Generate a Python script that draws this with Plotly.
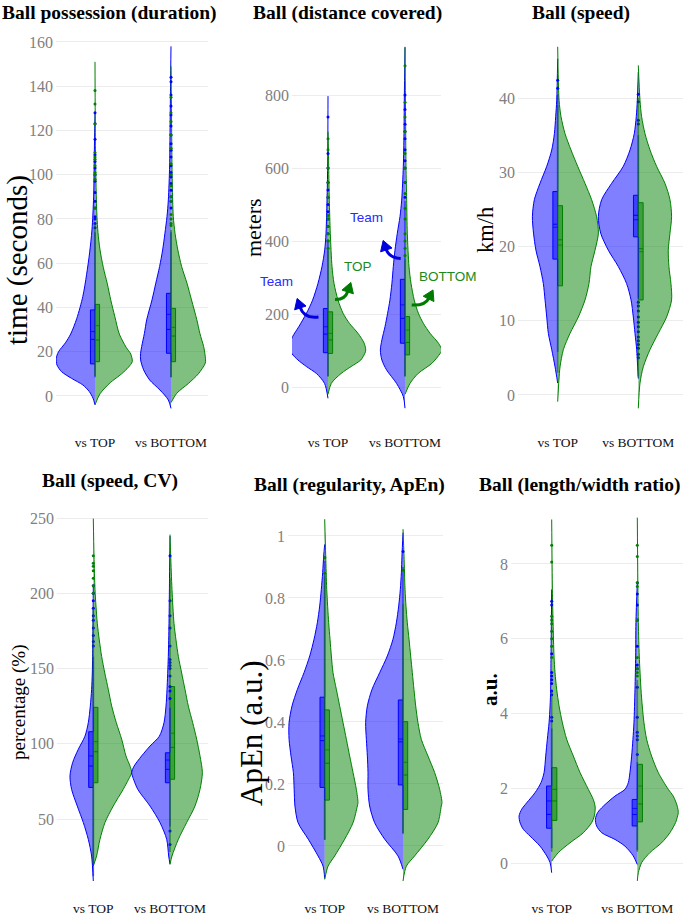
import plotly.graph_objects as go
from plotly.subplots import make_subplots

# ---------------- DATA ----------------
CATEGORIES = ["vs TOP", "vs BOTTOM"]
PANEL_TITLES = ["Ball possession (duration)", "Ball (distance covered)", "Ball (speed)",
                "Ball (speed, CV)", "Ball (regularity, ApEn)", "Ball (length/width ratio)"]
Y_TITLES = ["time (seconds)", "meters", "km/h", "percentage (%)", "ApEn (a.u.)", "<b>a.u.</b>"]
Y_TICKS = [[0, 20, 40, 60, 80, 100, 120, 140, 160], [0, 200, 400, 600, 800], [0, 10, 20, 30, 40],
           [50, 100, 150, 200, 250], [0, 0.2, 0.4, 0.6, 0.8, 1], [0, 2, 4, 6, 8]]

# Density profiles (value, relative half-width) per half violin: team (left) / opponent (right)
DUR_TOP_TEAM_V = [-4, -1, 2, 5, 8, 11, 14, 17, 20, 24, 28, 35, 45, 55, 65, 75, 90, 110, 128]
DUR_TOP_TEAM_D = [0, 0.026, 0.075, 0.16, 0.31, 0.44, 0.50, 0.51, 0.48, 0.39, 0.32, 0.24, 0.16, 0.11, 0.07, 0.04, 0.018, 0.009, 0]
DUR_TOP_OPP_V = [-4, 1, 6, 10, 13, 15.5, 19, 22, 28, 36, 43, 51, 58, 66, 74, 81, 89, 104, 119, 151]
DUR_TOP_OPP_D = [0, 0.066, 0.20, 0.35, 0.44, 0.49, 0.47, 0.41, 0.32, 0.26, 0.21, 0.16, 0.11, 0.066, 0.039, 0.026, 0.018, 0.009, 0.004, 0]
DUR_BOT_TEAM_V = [-5.6, -1.8, 2.7, 7.2, 11.8, 16.3, 19.3, 22.3, 28.3, 34.4, 43.4, 51, 58.5, 66, 73.5, 81, 88.6, 104, 119, 140, 158]
DUR_BOT_TEAM_D = [0, 0.035, 0.145, 0.28, 0.36, 0.40, 0.40, 0.386, 0.35, 0.32, 0.25, 0.20, 0.15, 0.11, 0.08, 0.053, 0.035, 0.018, 0.013, 0.006, 0]
DUR_BOT_OPP_V = [-3, 1.2, 5.7, 10, 14.7, 16.3, 19.3, 22.3, 28.3, 34.4, 43.4, 51, 58.5, 66, 73.5, 81, 88.6, 104, 119, 149]
DUR_BOT_OPP_D = [0, 0.075, 0.23, 0.36, 0.45, 0.455, 0.445, 0.43, 0.38, 0.34, 0.27, 0.21, 0.14, 0.09, 0.053, 0.03, 0.022, 0.013, 0.009, 0]

DIST_TOP_TEAM_V = [-31, 10, 37, 56, 74, 92, 115, 138, 165, 202, 238, 284, 330, 375, 421, 512, 604, 797]
DIST_TOP_TEAM_D = [0, 0.045, 0.15, 0.28, 0.39, 0.47, 0.50, 0.46, 0.38, 0.28, 0.20, 0.13, 0.078, 0.043, 0.026, 0.013, 0.004, 0]
DIST_TOP_OPP_V = [-20, 10, 37, 56, 74, 92, 101, 120, 147, 174, 202, 238, 284, 330, 421, 512, 604, 700]
DIST_TOP_OPP_D = [0, 0.043, 0.17, 0.30, 0.426, 0.478, 0.49, 0.47, 0.39, 0.28, 0.196, 0.13, 0.078, 0.052, 0.03, 0.017, 0.009, 0]
DIST_BOT_TEAM_V = [-58, -26, 10, 47, 74, 101, 129, 165, 202, 238, 284, 330, 375, 421, 467, 512, 604, 695, 786, 932]
DIST_BOT_TEAM_D = [0, 0.022, 0.11, 0.24, 0.30, 0.32, 0.30, 0.26, 0.226, 0.196, 0.17, 0.152, 0.13, 0.10, 0.065, 0.043, 0.022, 0.013, 0.009, 0]
DIST_BOT_OPP_V = [-20, 10, 37, 65, 92, 101, 120, 147, 174, 202, 238, 284, 330, 421, 512, 604, 700, 930]
DIST_BOT_OPP_D = [0, 0.065, 0.17, 0.35, 0.457, 0.478, 0.435, 0.326, 0.24, 0.174, 0.12, 0.078, 0.052, 0.03, 0.022, 0.013, 0.009, 0]

SPD_TOP_TEAM_V = [1.6, 3.8, 6.1, 8.3, 10.5, 12.8, 15, 17.3, 19.5, 21.8, 24, 26.3, 28.5, 30.8, 33, 35.2, 37.5, 39.7, 45.3]
SPD_TOP_TEAM_D = [0, 0.033, 0.074, 0.116, 0.136, 0.157, 0.178, 0.22, 0.27, 0.30, 0.314, 0.29, 0.22, 0.136, 0.074, 0.041, 0.025, 0.012, 0]
SPD_TOP_OPP_V = [-0.9, 2, 3.8, 6.1, 8.3, 10.5, 12.8, 15, 17.3, 19.5, 21.8, 24, 26.3, 28.5, 30.8, 33, 35.2, 37.5, 39.7, 46.9]
SPD_TOP_OPP_D = [0, 0.015, 0.029, 0.07, 0.153, 0.256, 0.339, 0.388, 0.413, 0.463, 0.505, 0.483, 0.421, 0.339, 0.248, 0.165, 0.091, 0.041, 0.017, 0]
SPD_BOT_TEAM_V = [2.2, 3.8, 6.1, 8.3, 10.5, 12.8, 15, 17.3, 19.5, 21.8, 24, 26.3, 28.5, 30.8, 33, 35.2, 37.5, 39.7, 43.5]
SPD_BOT_TEAM_D = [0, 0.008, 0.02, 0.041, 0.062, 0.09, 0.145, 0.248, 0.372, 0.467, 0.496, 0.455, 0.331, 0.186, 0.103, 0.05, 0.025, 0.012, 0]
SPD_BOT_OPP_V = [-1.8, 1.6, 3.8, 6.1, 8.3, 10.5, 12.8, 15, 17.3, 19.5, 21.8, 24, 26.3, 28.5, 30.8, 33, 35.2, 37.5, 39.7, 44.4]
SPD_BOT_OPP_D = [0, 0.021, 0.062, 0.145, 0.248, 0.351, 0.413, 0.405, 0.38, 0.372, 0.393, 0.413, 0.393, 0.331, 0.227, 0.145, 0.083, 0.041, 0.021, 0]

CV_TOP_TEAM_V = [8.8, 25.4, 36.5, 47.6, 58.6, 69.7, 78.6, 87.4, 96.3, 105, 114, 125, 136, 147, 158, 180, 205]
CV_TOP_TEAM_D = [0, 0.022, 0.065, 0.13, 0.209, 0.283, 0.304, 0.27, 0.196, 0.109, 0.065, 0.039, 0.022, 0.013, 0.009, 0.004, 0]
CV_TOP_OPP_V = [18.8, 25.4, 36.5, 47.6, 58.6, 69.7, 76.4, 80.8, 85, 91.9, 103, 114, 125, 136, 147, 158, 169, 180, 191.5, 202.6, 225, 249.6]
CV_TOP_OPP_D = [0, 0.043, 0.087, 0.152, 0.26, 0.39, 0.46, 0.50, 0.48, 0.426, 0.37, 0.30, 0.24, 0.196, 0.15, 0.109, 0.078, 0.052, 0.035, 0.022, 0.009, 0]
CV_BOT_TEAM_V = [19.9, 25.4, 36.5, 47.6, 58.6, 69.7, 78.6, 80.8, 85, 91.9, 98.5, 105, 114, 125, 136, 158, 180, 210, 238]
CV_BOT_TEAM_D = [0, 0.017, 0.043, 0.13, 0.26, 0.42, 0.49, 0.50, 0.47, 0.37, 0.26, 0.139, 0.078, 0.052, 0.039, 0.022, 0.013, 0.006, 0]
CV_BOT_OPP_V = [19.9, 25.4, 36.5, 47.6, 58.6, 69.7, 80.8, 91.9, 103, 114, 125, 136, 147, 158, 169, 180, 202.6, 225, 239]
CV_BOT_OPP_D = [0, 0.026, 0.109, 0.217, 0.326, 0.391, 0.422, 0.391, 0.348, 0.296, 0.239, 0.196, 0.152, 0.109, 0.078, 0.052, 0.026, 0.009, 0]

APEN_TOP_TEAM_V = [-0.105, -0.065, -0.032, 0.022, 0.075, 0.129, 0.183, 0.237, 0.29, 0.344, 0.398, 0.452, 0.505, 0.559, 0.613, 0.667, 0.72, 0.774, 0.828, 0.882, 0.935, 0.973]
APEN_TOP_TEAM_D = [0, 0.021, 0.085, 0.21, 0.34, 0.38, 0.39, 0.40, 0.43, 0.455, 0.455, 0.417, 0.349, 0.264, 0.191, 0.136, 0.094, 0.064, 0.043, 0.026, 0.013, 0]
APEN_TOP_OPP_V = [-0.108, -0.065, -0.032, 0.022, 0.075, 0.129, 0.14, 0.183, 0.237, 0.29, 0.344, 0.398, 0.452, 0.505, 0.559, 0.613, 0.667, 0.72, 0.828, 0.935, 1.054]
APEN_TOP_OPP_D = [0, 0.043, 0.128, 0.255, 0.362, 0.417, 0.425, 0.404, 0.362, 0.319, 0.277, 0.234, 0.191, 0.149, 0.106, 0.085, 0.068, 0.051, 0.026, 0.013, 0]
APEN_BOT_TEAM_V = [-0.075, -0.032, 0.022, 0.075, 0.129, 0.183, 0.237, 0.29, 0.344, 0.398, 0.452, 0.505, 0.559, 0.613, 0.667, 0.72, 0.774, 0.828, 0.882, 0.935, 1.011]
APEN_BOT_TEAM_D = [0, 0.064, 0.234, 0.362, 0.426, 0.447, 0.447, 0.455, 0.468, 0.477, 0.455, 0.396, 0.298, 0.2, 0.128, 0.085, 0.055, 0.034, 0.021, 0.013, 0]
APEN_BOT_OPP_V = [-0.113, -0.065, -0.032, 0.022, 0.075, 0.129, 0.14, 0.183, 0.237, 0.29, 0.344, 0.398, 0.452, 0.505, 0.559, 0.613, 0.667, 0.72, 0.774, 0.828, 0.935, 1.022]
APEN_BOT_OPP_D = [0, 0.043, 0.149, 0.319, 0.447, 0.489, 0.498, 0.468, 0.404, 0.319, 0.234, 0.191, 0.162, 0.14, 0.119, 0.098, 0.077, 0.055, 0.038, 0.026, 0.013, 0]

LW_TOP_TEAM_V = [-0.26, 0.01, 0.19, 0.45, 0.72, 0.9, 1.08, 1.26, 1.44, 1.61, 1.88, 2.15, 2.42, 2.86, 3.31, 3.75, 4.2, 4.65, 5.54, 6.43, 7.32]
LW_TOP_TEAM_D = [0, 0.019, 0.058, 0.136, 0.253, 0.331, 0.37, 0.381, 0.35, 0.292, 0.195, 0.125, 0.089, 0.07, 0.051, 0.031, 0.019, 0.012, 0.008, 0.004, 0]
LW_TOP_OPP_V = [0.05, 0.28, 0.54, 0.81, 1.08, 1.26, 1.5, 1.7, 1.97, 2.42, 2.86, 3.31, 3.75, 4.2, 4.65, 5.09, 5.54, 6.43, 7.32, 9.19]
LW_TOP_OPP_D = [0, 0.078, 0.214, 0.37, 0.467, 0.498, 0.508, 0.486, 0.428, 0.331, 0.253, 0.175, 0.125, 0.086, 0.058, 0.039, 0.027, 0.016, 0.008, 0]
LW_BOT_TEAM_V = [-0.04, 0.19, 0.45, 0.63, 0.81, 0.99, 1.17, 1.35, 1.52, 1.79, 1.97, 2.15, 2.42, 2.86, 3.31, 3.75, 4.65, 5.54, 6.43, 7.5]
LW_BOT_TEAM_D = [0, 0.047, 0.144, 0.26, 0.416, 0.475, 0.49, 0.463, 0.397, 0.261, 0.144, 0.105, 0.086, 0.066, 0.051, 0.039, 0.027, 0.019, 0.016, 0]
LW_BOT_OPP_V = [-0.48, -0.26, 0.01, 0.28, 0.54, 0.81, 1.08, 1.26, 1.35, 1.52, 1.79, 1.97, 2.42, 2.86, 3.31, 3.75, 4.2, 4.65, 5.54, 6.43, 9.24]
LW_BOT_OPP_D = [0, 0.012, 0.051, 0.148, 0.284, 0.381, 0.447, 0.471, 0.479, 0.467, 0.42, 0.362, 0.245, 0.167, 0.109, 0.078, 0.058, 0.043, 0.023, 0.012, 0]

# Box statistics, order: [TOP team, TOP opponent, BOTTOM team, BOTTOM opponent]
DUR_Q1 = [14.5, 15.5, 19.3, 15.5]; DUR_MED = [25.6, 25.3, 30.1, 27.1]; DUR_Q3 = [38.9, 41.4, 46.4, 39.6]
DUR_MEAN = [29.1, 31.8, 36.9, 31.0]; DUR_LO = [8.5, 9, 8.5, 8.5]; DUR_HI = [74, 78, 74, 75]
DIST_Q1 = [94, 92, 120, 88]; DIST_MED = [145, 129, 188, 122]; DIST_Q3 = [215, 206, 295, 193]
DIST_MEAN = [165, 147, 225, 156]; DIST_LO = [30, 28, 30, 28]; DIST_HI = [395, 375, 510, 350]
SPD_Q1 = [18.3, 14.7, 21.3, 12.8]; SPD_MED = [23.0, 20.9, 24.2, 19.7]; SPD_Q3 = [27.4, 25.5, 26.9, 25.9]
SPD_MEAN = [22.6, 20.2, 23.6, 19.3]; SPD_LO = [5.8, 3.0, 13.0, 2.5]; SPD_HI = [40.5, 39.0, 35.0, 40.0]
CV_Q1 = [71, 74.1, 74.1, 76.4]; CV_MED = [85.2, 94.7, 83, 97.6]; CV_Q3 = [108, 124.2, 94, 138]
CV_MEAN = [91.9, 101.4, 89.2, 107]; CV_LO = [12, 20, 45, 28]; CV_HI = [158, 190, 124, 210]
APEN_Q1 = [0.189, 0.148, 0.197, 0.118]; APEN_MED = [0.34, 0.267, 0.336, 0.229]; APEN_Q3 = [0.48, 0.439, 0.471, 0.401]
APEN_MEAN = [0.355, 0.31, 0.345, 0.27]; APEN_LO = [0.02, 0.02, 0.04, 0.04]; APEN_HI = [0.92, 0.87, 0.9, 0.78]
LW_Q1 = [0.93, 1.14, 0.99, 1.10]; LW_MED = [1.30, 1.66, 1.30, 1.58]; LW_Q3 = [2.06, 2.55, 1.70, 2.64]
LW_MEAN = [1.66, 1.97, 1.46, 2.06]; LW_LO = [0.4, 0.3, 0.35, 0.3]; LW_HI = [3.6, 4.6, 2.7, 4.9]

# Outlying observations, same order
DUR_OUT = [[76, 78, 80, 81, 85, 88, 92, 97, 100, 103, 106, 109, 116, 123, 128],
           [85, 98, 100, 101, 104, 107, 108, 110, 123, 132, 138],
           [85, 88, 90, 93, 96, 99, 101, 104, 108, 111, 114, 118, 122, 127, 131, 136, 142, 144],
           [77, 78, 80, 82, 88, 90, 95, 100, 105, 112, 118, 124, 128, 135]]
DIST_OUT = [[400, 420, 440, 460, 480, 500, 520, 540, 560, 600, 640, 740],
            [380, 400, 420, 440, 460, 470, 520, 560, 600, 650, 680],
            [520, 560, 600, 620, 650, 680, 700, 720, 760, 800],
            [360, 380, 400, 420, 460, 490, 530, 560, 600, 640, 700, 740, 780, 880]]
SPD_OUT = [[41.3, 42.4], [],
           [5.0, 5.5, 6.3, 6.8, 7.3, 7.8, 8.5, 9.2, 9.8, 10.5, 11.3, 12.0, 12.5, 36.5, 37.0, 39.5, 40.5], []]
CV_OUT = [[165, 168, 172, 177, 182, 185, 190, 195, 200, 205],
          [200, 205, 210, 215, 218, 220, 225],
          [33, 42, 130, 135, 138, 145, 150, 152, 154, 156, 165, 177, 185, 195, 225], []]
APEN_OUT = [[0.93], [0.88, 0.93], [0.95], [0.89]]
LW_OUT = [[3.8, 3.9, 4.5, 4.6, 4.8, 4.9, 5.0, 5.1, 5.6, 6.9, 7.0],
          [5.5, 5.8, 6.0, 6.2, 6.4, 6.5, 6.6, 8.05, 8.5],
          [2.9, 3.3, 3.4, 3.5, 3.9, 4.7, 5.2, 5.3, 5.8, 6.5, 6.9, 7.2, 7.5],
          [5.0, 5.1, 5.2, 5.5, 6.5, 7.4, 7.5, 8.2, 8.5]]

# ---------------- LAYOUT / STYLE ----------------
W, H = 683, 916
SERIF = "Liberation Serif, Times New Roman, serif"
SANS = "Liberation Sans, Arial, sans-serif"
BLUE_FILL, BLUE_LINE = "rgba(0,0,255,0.5)", "#0000ff"
GREEN_FILL, GREEN_LINE = "rgba(0,128,0,0.5)", "#008000"

def px(x):
    return x / W

def py(y):
    return 1 - y / H

# panel pixel geometry: (x_left, x_right, y_top, y_bottom, center1, center2, yval_at_top, yval_at_bottom, tick standoff)
PANEL_GEOM = [
    (56, 208, 28, 420, 95.0, 171.0, 166.3, -10.85, 12),
    (292, 441, 28, 420, 328.0, 405.0, 983.6, -90.4, 12),
    (518, 683, 28, 420, 557.7, 638.3, 49.43, -3.37, 12),
    (57, 208, 492, 888, 93.3, 170.0, 267.3, 4.15, 10),
    (288, 443, 492, 888, 324.7, 403.0, 1.1419, -0.1355, 10),
    (511, 683, 492, 888, 551.7, 637.3, 9.926, -0.669, 10),
]

profiles = [
    [(DUR_TOP_TEAM_V, DUR_TOP_TEAM_D), (DUR_TOP_OPP_V, DUR_TOP_OPP_D), (DUR_BOT_TEAM_V, DUR_BOT_TEAM_D), (DUR_BOT_OPP_V, DUR_BOT_OPP_D)],
    [(DIST_TOP_TEAM_V, DIST_TOP_TEAM_D), (DIST_TOP_OPP_V, DIST_TOP_OPP_D), (DIST_BOT_TEAM_V, DIST_BOT_TEAM_D), (DIST_BOT_OPP_V, DIST_BOT_OPP_D)],
    [(SPD_TOP_TEAM_V, SPD_TOP_TEAM_D), (SPD_TOP_OPP_V, SPD_TOP_OPP_D), (SPD_BOT_TEAM_V, SPD_BOT_TEAM_D), (SPD_BOT_OPP_V, SPD_BOT_OPP_D)],
    [(CV_TOP_TEAM_V, CV_TOP_TEAM_D), (CV_TOP_OPP_V, CV_TOP_OPP_D), (CV_BOT_TEAM_V, CV_BOT_TEAM_D), (CV_BOT_OPP_V, CV_BOT_OPP_D)],
    [(APEN_TOP_TEAM_V, APEN_TOP_TEAM_D), (APEN_TOP_OPP_V, APEN_TOP_OPP_D), (APEN_BOT_TEAM_V, APEN_BOT_TEAM_D), (APEN_BOT_OPP_V, APEN_BOT_OPP_D)],
    [(LW_TOP_TEAM_V, LW_TOP_TEAM_D), (LW_TOP_OPP_V, LW_TOP_OPP_D), (LW_BOT_TEAM_V, LW_BOT_TEAM_D), (LW_BOT_OPP_V, LW_BOT_OPP_D)],
]
boxes = [
    (DUR_Q1, DUR_MED, DUR_Q3, DUR_MEAN, DUR_LO, DUR_HI, DUR_OUT),
    (DIST_Q1, DIST_MED, DIST_Q3, DIST_MEAN, DIST_LO, DIST_HI, DIST_OUT),
    (SPD_Q1, SPD_MED, SPD_Q3, SPD_MEAN, SPD_LO, SPD_HI, SPD_OUT),
    (CV_Q1, CV_MED, CV_Q3, CV_MEAN, CV_LO, CV_HI, CV_OUT),
    (APEN_Q1, APEN_MED, APEN_Q3, APEN_MEAN, APEN_LO, APEN_HI, APEN_OUT),
    (LW_Q1, LW_MED, LW_Q3, LW_MEAN, LW_LO, LW_HI, LW_OUT),
]

fig = make_subplots(rows=2, cols=3)
BOX_W = 0.06

for p in range(6):
    row, col = p // 3 + 1, p % 3 + 1
    q1, med, q3, mean, lo, hi, outs = boxes[p]
    for k in range(4):
        cat = k // 2 + 1
        team = (k % 2 == 0)
        sign = -1 if team else 1
        fillc = BLUE_FILL if team else GREEN_FILL
        linec = BLUE_LINE if team else GREEN_LINE
        vals, dens = profiles[p][k]
        fig.add_trace(go.Scatter(x=[cat, cat], y=[vals[0], vals[-1]], mode="lines",
                                 line=dict(width=0, color=linec), hoverinfo="skip"), row=row, col=col)
        fig.add_trace(go.Scatter(x=[cat + sign * d for d in dens], y=vals, mode="lines",
                                 line=dict(color=linec, width=1, shape="spline", smoothing=0.8),
                                 fill="tonextx", fillcolor=fillc, hoverinfo="skip"), row=row, col=col)
    for k in range(4):
        cat = k // 2 + 1
        team = (k % 2 == 0)
        sign = -1 if team else 1
        fillc = BLUE_FILL if team else GREEN_FILL
        linec = BLUE_LINE if team else GREEN_LINE
        wcol = "rgba(0,0,255,0.55)" if team else "rgba(0,110,0,0.6)"
        fig.add_trace(go.Scatter(x=[cat, cat, None, cat, cat], y=[lo[k], q1[k], None, q3[k], hi[k]],
                                 mode="lines", line=dict(color=wcol, width=1.6), hoverinfo="skip"),
                      row=row, col=col)
        fig.add_trace(go.Box(x=[cat + sign * BOX_W / 2], q1=[q1[k]], median=[med[k]], q3=[q3[k]],
                             lowerfence=[q1[k]], upperfence=[q3[k]], width=BOX_W,
                             fillcolor=fillc, line=dict(color=linec, width=1), whiskerwidth=0,
                             boxpoints=False, hoverinfo="skip"), row=row, col=col)
        fig.add_trace(go.Scatter(x=[cat, cat + sign * BOX_W], y=[mean[k], mean[k]], mode="lines",
                                 line=dict(color=linec, width=0.8), hoverinfo="skip"), row=row, col=col)
        if outs[k]:
            fig.add_trace(go.Scatter(x=[cat] * len(outs[k]), y=outs[k], mode="markers",
                                     marker=dict(size=3, color=linec), hoverinfo="skip"),
                          row=row, col=col)

layout_updates = {}
annotations = []
for p in range(6):
    xl, xr, yt, yb, c1, c2, vt, vb, stand = PANEL_GEOM[p]
    unit = c2 - c1
    xr0 = 1 - (c1 - xl) / unit
    xr1 = 2 + (xr - c2) / unit
    sfx = "" if p == 0 else str(p + 1)
    layout_updates["xaxis" + sfx] = dict(
        domain=[px(xl), px(xr)], range=[xr0, xr1], tickvals=[1, 2], ticktext=CATEGORIES,
        showgrid=False, zeroline=False, showline=False, ticks="", fixedrange=True,
        tickfont=dict(family=SERIF, size=13.5, color="#111111"), ticklabelstandoff=stand)
    layout_updates["yaxis" + sfx] = dict(
        domain=[py(yb), py(yt)], range=[vb, vt], tickvals=Y_TICKS[p], fixedrange=True,
        showgrid=True, gridcolor="#ececec", gridwidth=1, zeroline=False, showline=False, ticks="",
        tickfont=dict(family=SERIF, size=16, color="#808080"), ticklabelstandoff=2)

TITLE_POS = [(109, 13), (347, 13), (581, 13), (110, 481), (349, 485), (580, 485)]
for p in range(6):
    x, y = TITLE_POS[p]
    annotations.append(dict(text="<b>" + PANEL_TITLES[p] + "</b>", x=px(x), y=py(y), xref="paper", yref="paper",
                            showarrow=False, xanchor="center", yanchor="middle",
                            font=dict(family=SERIF, size=19.5, color="black")))

YT_POS = [(17, 260, 29), (253, 228, 22), (486, 230, 22.5), (19, 702, 19), (251, 734, 31), (490, 690, 21)]
for p in range(6):
    x, y, s = YT_POS[p]
    annotations.append(dict(text=Y_TITLES[p], x=px(x), y=py(y), xref="paper", yref="paper", textangle=-90,
                            showarrow=False, xanchor="center", yanchor="middle",
                            font=dict(family=SERIF, size=s, color="black")))

# labels with curved arrows in the distance panel
LABELS = [("Team", 276.5, 281.5, "#2a2aff"), ("TOP", 358, 266.5, "#1a8a1a"),
          ("Team", 366.7, 217.5, "#2a2aff"), ("BOTTOM", 448, 276.7, "#1a8a1a")]
for t, x, y, c in LABELS:
    annotations.append(dict(text=t, x=px(x), y=py(y), xref="paper", yref="paper", showarrow=False,
                            xanchor="center", yanchor="middle", font=dict(family=SANS, size=13.5, color=c)))

ARROWS = [  # (start, control, end-of-shaft, colour) in pixels
    ((318.5, 317), (304, 319), (300, 307), "#0000dd"),
    ((335, 299.5), (345, 300), (348, 291), "#007a00"),
    ((400.7, 258.5), (389, 258), (386, 249), "#0000dd"),
    ((411.7, 305), (425, 306), (429, 298), "#007a00"),
]
shapes = []
for (sx, sy), (cx, cy), (ex, ey), c in ARROWS:
    shapes.append(dict(type="path", xref="paper", yref="paper",
                       path=f"M {px(sx)},{py(sy)} Q {px(cx)},{py(cy)} {px(ex)},{py(ey)}",
                       line=dict(color=c, width=3)))
    dx, dy = ex - cx, ey - cy
    n = (dx * dx + dy * dy) ** 0.5
    ux, uy = dx / n, dy / n
    nx, ny = -uy, ux
    bx, by = ex - ux * 1, ey - uy * 1
    tx, ty = ex + ux * 9, ey + uy * 9
    p1 = (bx + nx * 6, by + ny * 6)
    p2 = (bx - nx * 6, by - ny * 6)
    shapes.append(dict(type="path", xref="paper", yref="paper",
                       path=f"M {px(tx)},{py(ty)} L {px(p1[0])},{py(p1[1])} L {px(p2[0])},{py(p2[1])} Z",
                       fillcolor=c, line=dict(color=c, width=1)))

fig.update_layout(**layout_updates)
fig.update_layout(width=W, height=H, margin=dict(l=0, r=0, t=0, b=0), showlegend=False,
                  paper_bgcolor="white", plot_bgcolor="white", annotations=annotations, shapes=shapes,
                  boxmode="overlay")

fig.write_html("out.html", config={"displayModeBar": False, "staticPlot": True},
               post_script="document.body.style.margin='0';document.body.style.overflow='hidden';")
